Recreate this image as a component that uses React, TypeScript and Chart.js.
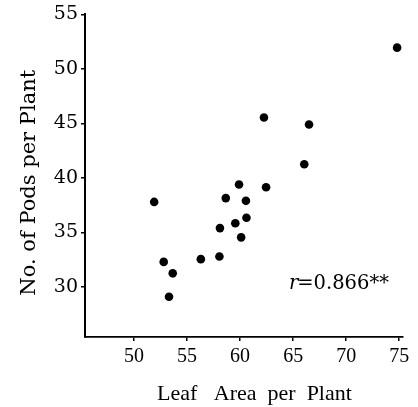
import React, { useEffect, useRef } from "react";
import { Chart, registerables } from "chart.js";

Chart.register(...registerables);

const leafArea = [51.9, 52.8, 53.3, 53.65, 56.3, 58.05, 58.1, 58.65, 59.55, 59.9, 60.1, 60.55, 60.6, 62.25, 62.45, 66.05, 66.5, 74.8];
const podsPerPlant = [37.8, 32.3, 29.1, 31.25, 32.55, 32.8, 35.4, 38.15, 35.85, 39.4, 34.55, 37.9, 36.35, 45.55, 39.15, 41.25, 44.9, 51.95];
const xTicks = [50, 55, 60, 65, 70, 75];
const yTicks = [30, 35, 40, 45, 50, 55];
const xTitle = "Leaf   Area  per  Plant";
const yTitle = "No. of Pods per Plant";
const rLabel = "r";
const rValue = "=0.866**";

const TIMES = '"Liberation Serif", "DejaVu Serif", serif';
const WIDE = '"DejaVu Serif", "Liberation Serif", serif';

const textPlugin = {
  id: "customText",
  afterDraw(chart: any) {
    const ctx = chart.ctx as CanvasRenderingContext2D;
    const area = chart.chartArea;
    const xs = chart.scales.x;
    const ys = chart.scales.y;
    ctx.save();
    ctx.fillStyle = "#000";
    // x title
    ctx.font = `22px ${TIMES}`;
    ctx.textAlign = "left";
    ctx.textBaseline = "alphabetic";
    ctx.fillText(xTitle, area.left + 72, 400);
    // y title
    ctx.save();
    ctx.font = `21px ${WIDE}`;
    ctx.textAlign = "center";
    ctx.translate(35, area.top + 168.4);
    ctx.rotate(-Math.PI / 2);
    ctx.fillText(yTitle, 0, 0);
    ctx.restore();
    // annotation
    const ax = xs.getPixelForValue(64.6);
    const ay = ys.getPixelForValue(29.77);
    ctx.textAlign = "left";
    ctx.font = `italic 19.5px ${WIDE}`;
    ctx.fillText(rLabel, ax, ay);
    const w = ctx.measureText(rLabel).width;
    ctx.font = `19.5px ${WIDE}`;
    ctx.fillText(rValue, ax + w - 1, ay);
    ctx.restore();
  },
};

export default function App() {
  const ref = useRef<HTMLCanvasElement | null>(null);
  useEffect(() => {
    if (!ref.current) return;
    const chart = new Chart(ref.current, {
      type: "scatter",
      data: {
        datasets: [
          {
            data: leafArea.map((x, i) => ({ x, y: podsPerPlant[i] })),
            backgroundColor: "#000",
            borderWidth: 0,
            pointRadius: 4.3,
          },
        ],
      },
      options: {
        animation: false,
        responsive: false,
        devicePixelRatio: 1,
        layout: { padding: { left: 0, right: 15.6, top: 13.3, bottom: 0 } },
        plugins: { legend: { display: false }, tooltip: { enabled: false }, title: { display: false } },
        scales: {
          x: {
            type: "linear",
            min: 45.38,
            max: 75.3,
            afterBuildTicks: (s: any) => {
              s.ticks = xTicks.map((v) => ({ value: v }));
            },
            afterFit: (s: any) => {
              s.height = 70;
            },
            grid: { drawOnChartArea: false, drawTicks: true, tickLength: 4, color: "#000", lineWidth: 1.5 },
            border: { display: true, color: "#000", width: 1.8 },
            ticks: { color: "#000", font: { family: TIMES, size: 20 }, padding: 4, maxRotation: 0 },
          },
          y: {
            type: "linear",
            min: 25.41,
            max: 55,
            afterBuildTicks: (s: any) => {
              s.ticks = yTicks.map((v) => ({ value: v }));
            },
            afterFit: (s: any) => {
              s.width = 85;
            },
            grid: { drawOnChartArea: false, drawTicks: true, tickLength: 4, color: "#000", lineWidth: 1.5 },
            border: { display: true, color: "#000", width: 2 },
            ticks: { color: "#000", font: { family: WIDE, size: 19 }, padding: 3 },
          },
        },
      },
      plugins: [textPlugin],
    });
    return () => chart.destroy();
  }, []);
  return (
    <div style={{ position: "fixed", left: 0, top: 0, width: 418, height: 407, background: "#fff" }}>
      <canvas ref={ref} width={418} height={407} style={{ display: "block" }} />
    </div>
  );
}
